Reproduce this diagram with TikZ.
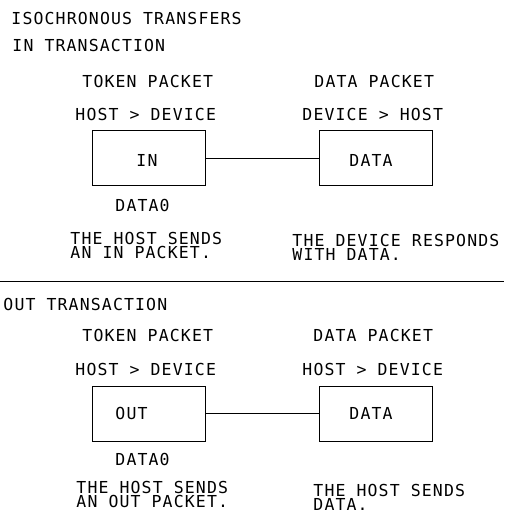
\documentclass[tikz,border=0pt]{standalone}
\usepackage{fontspec}
\newfontfamily\plotfont[LetterSpace=6.9]{DejaVu Sans Mono}
\tikzstyle{plottext}=[anchor=base west,inner sep=0pt,align=left,font=\plotfont\fontsize{16.5}{14}\selectfont]
\tikzstyle{packet}=[draw,rectangle,minimum width=112.7pt,minimum height=55pt,inner sep=0pt]
\tikzstyle{edge}=[draw]

\begin{document}
\begin{tikzpicture}[x=1pt,y=-1pt,line width=0.9pt]
				\useasboundingbox (0,0) rectangle (504,512);

				% First we draw the packet boxes
				\foreach \pos/\name in {{(148.65,158.2)/intok}, {(375.65,158.2)/indata},
										{(148.65,413.5)/outtok}, {(375.65,413.5)/outdata}}
				\node[packet] (\name) at \pos {};

				% Titles and labels of the IN transaction
				\foreach \pos/\name/\txt in {{(11,24.7)/title/ISOCHRONOUS TRANSFERS}, {(12,51)/intitle/IN TRANSACTION},
										{(82,87)/intokhead/TOKEN PACKET}, {(314,87)/indatahead/DATA PACKET},
										{(75,120.5)/intokdir/HOST > DEVICE}, {(302,120.5)/indatadir/DEVICE > HOST},
										{(136,166)/intokname/IN}, {(349,166)/indataname/DATA},
										{(115,211)/intokpid/DATA0},
										{(70,258.4)/intoksay/{THE HOST SENDS\\AN IN PACKET.}},
										{(292,260)/indatasay/{THE DEVICE RESPONDS\\WITH DATA.}}}
				\node[plottext] (\name) at \pos {\txt};

				% Titles and labels of the OUT transaction
				\foreach \pos/\name/\txt in {{(3,310.5)/outtitle/OUT TRANSACTION},
										{(82,341.5)/outtokhead/TOKEN PACKET}, {(313,341.5)/outdatahead/DATA PACKET},
										{(75,375)/outtokdir/HOST > DEVICE}, {(302,375)/outdatadir/HOST > DEVICE},
										{(115,419)/outtokname/OUT}, {(349,419)/outdataname/DATA},
										{(115,465)/outtokpid/DATA0},
										{(76,507.5)/outtoksay/{THE HOST SENDS\\AN OUT PACKET.}},
										{(313,510)/outdatasay/{THE HOST SENDS\\DATA.}}}
				\node[plottext] (\name) at \pos {\txt};

				% Connect token and data packets
				\foreach \source/ \dest in {intok/indata, outtok/outdata}
				\path[edge] (\source) -- (\dest);

				% Rule between the two transactions
				\coordinate (rulewest) at (0,281.7);
				\coordinate (ruleeast) at (504,281.7);
				\path[edge] (rulewest) -- (ruleeast);

			\end{tikzpicture}
\end{document}
